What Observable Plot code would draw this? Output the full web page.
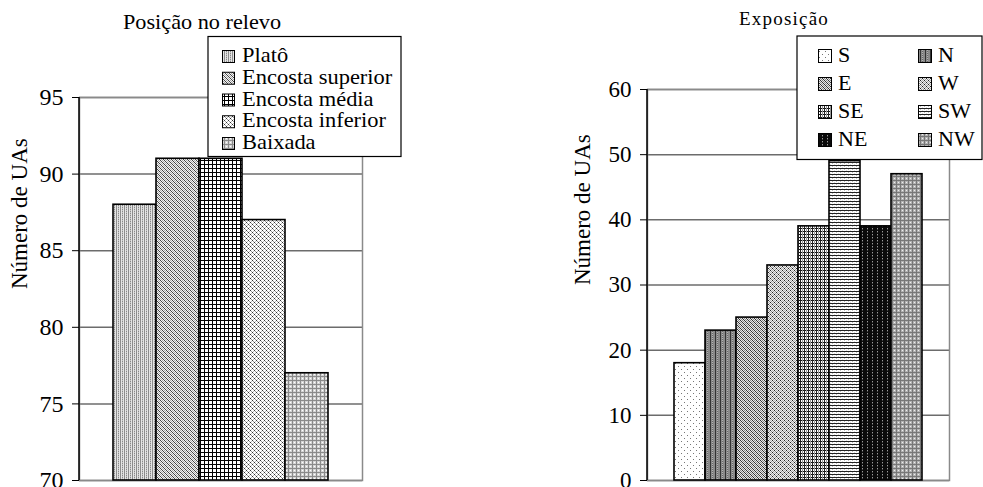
<!DOCTYPE html>
<html>
<head>
<meta charset="utf-8">
<script src="https://cdn.jsdelivr.net/npm/d3@7"></script>
<script src="https://cdn.jsdelivr.net/npm/@observablehq/plot@0.6"></script>
<style>
  html, body { margin: 0; padding: 0; background: #fff; }
  #page { position: relative; width: 983px; height: 487px; overflow: hidden; background: #fff;
          font-family: "Liberation Serif", "Times New Roman", serif; }
  #page > svg { position: absolute; top: 0; }
  #page svg text { font-family: "Liberation Serif", "Times New Roman", serif; }
</style>
</head>
<body>
<div id="page"></div>
<script>
// Posição no relevo
const reliefTitle = "Posição no relevo";
const reliefCategories = ["Platô", "Encosta superior", "Encosta média", "Encosta inferior", "Baixada"];
const reliefValues = [88, 91, 91, 87, 77];
const reliefTicks = [70, 75, 80, 85, 90, 95];
const reliefPatterns = ["plato", "superior", "media", "inferior", "baixada"];

// Exposição
const aspectTitle = "Exposição";
const aspectCategories = ["S", "N", "E", "W", "SE", "SW", "NE", "NW"];
const aspectValues = [18, 23, 25, 33, 39, 49, 39, 47];
const aspectTicks = [0, 10, 20, 30, 40, 50, 60];
const aspectPatterns = ["s", "n", "e", "w", "se", "sw", "ne", "nw"];

const yLabel = "Número de UAs";
const serif = "'Liberation Serif', 'Times New Roman', serif";

// Monochrome fill textures: tile size, background and pixel runs [x, y, w, h, colour]
const tiles = {
  plato:    {w: 4, h: 4, bg: "#e4e4e4", px: [[0,0,1,4,"#8c8c8c"],[2,0,1,4,"#c4c4c4"],[2,1,1,1,"#888"],[2,3,1,1,"#888"]]},
  superior: {w: 4, h: 4, bg: "#f4f4f4", px: [[0,0,1,1,"#444"],[1,1,1,1,"#444"],[2,2,1,1,"#444"],[3,3,1,1,"#444"],
                                             [2,0,1,1,"#aaa"],[3,1,1,1,"#aaa"],[0,2,1,1,"#aaa"],[1,3,1,1,"#aaa"]]},
  media:    {w: 4, h: 4, bg: "#fff",    px: [[0,0,4,1,"#000"],[0,0,1,4,"#000"]]},
  inferior: {w: 4, h: 4, bg: "#fff",    px: [[0,0,1,1,"#333"],[2,2,1,1,"#333"],[1,1,1,1,"#999"],[3,3,1,1,"#999"],
                                             [3,1,1,1,"#bbb"],[1,3,1,1,"#bbb"]]},
  baixada:  {w: 4, h: 4, bg: "#d4d4d4", px: [[0,0,4,1,"#8a8a8a"],[0,0,1,4,"#8a8a8a"],[2,2,1,1,"#fff"]]},
  s:        {w: 6, h: 6, bg: "#fff",    px: [[0,0,1,1,"#777"],[3,3,1,1,"#777"]]},
  n:        {w: 5, h: 4, bg: "#8a8a8a", px: [[0,0,1,4,"#333"],[2,0,1,4,"#b4b4b4"],[2,1,1,1,"#666"],[2,3,1,1,"#666"]]},
  e:        {w: 4, h: 4, bg: "#e8e8e8", px: [[0,0,1,1,"#333"],[1,1,1,1,"#333"],[2,2,1,1,"#333"],[3,3,1,1,"#333"],
                                             [2,0,1,1,"#888"],[3,1,1,1,"#888"],[0,2,1,1,"#888"],[1,3,1,1,"#888"]]},
  w:        {w: 4, h: 4, bg: "#f0f0f0", px: [[0,0,1,1,"#222"],[2,2,1,1,"#222"],[1,1,1,1,"#888"],[3,3,1,1,"#888"],
                                             [3,1,1,1,"#999"],[1,3,1,1,"#999"],[2,0,1,1,"#bbb"],[0,2,1,1,"#bbb"]]},
  se:       {w: 4, h: 3, bg: "#fff",    px: [[0,0,4,1,"#111"],[0,0,1,3,"#222"],[2,0,1,3,"#999"]]},
  sw:       {w: 4, h: 3, bg: "#fff",    px: [[0,0,4,1,"#222"],[0,1,1,1,"#bbb"],[2,2,1,1,"#ddd"]]},
  ne:       {w: 5, h: 3, bg: "#0a0a0a", px: [[2,0,1,1,"#9a9a9a"],[2,1,1,1,"#444"]]},
  nw:       {w: 4, h: 4, bg: "#b2b2b2", px: [[0,0,4,1,"#777"],[0,0,1,4,"#777"],[2,2,1,1,"#eee"]]}
};

const page = d3.select("#page");

// Shared pattern definitions
const defs = page.append("svg").attr("width", 0).attr("height", 0).append("defs");
for (const [id, t] of Object.entries(tiles)) {
  const p = defs.append("pattern").attr("id", "pat-" + id)
    .attr("patternUnits", "userSpaceOnUse").attr("width", t.w).attr("height", t.h);
  p.append("rect").attr("width", t.w).attr("height", t.h).attr("fill", t.bg).attr("shape-rendering", "crispEdges");
  for (const [x, y, w, h, c] of t.px) {
    p.append("rect").attr("x", x).attr("y", y).attr("width", w).attr("height", h)
      .attr("fill", c).attr("shape-rendering", "crispEdges");
  }
}

function barChart({categories, values, ticks, patterns, left, width, marginLeft, marginRight, marginTop, paddingOuter, tickFont, labelDx}) {
  const rows = categories.map((c, i) => ({category: c, value: values[i], fill: `url(#pat-${patterns[i]})`}));
  const base = ticks[0];
  const plot = Plot.plot({
    width, height: 487,
    marginLeft, marginRight, marginTop, marginBottom: 7,
    style: {fontFamily: serif, fontSize: tickFont + "px", color: "#000", background: "transparent", overflow: "visible"},
    x: {type: "band", domain: categories, paddingInner: 0, paddingOuter, axis: null},
    y: {domain: [ticks[0], ticks[ticks.length - 1]]},
    color: {type: "identity"},
    marks: [
      Plot.ruleY(ticks, {stroke: "#6c6c6c", strokeWidth: 1.5}),
      Plot.frame({stroke: "#8a8a8a", strokeWidth: 1.5}),
      Plot.barY(rows, {x: "category", y1: () => base, y2: "value", fill: "fill", stroke: "#000", strokeWidth: 1.6}),
      Plot.axisY({ticks, tickSize: 7, tickPadding: 9, fontSize: tickFont, label: null, stroke: "#000"}),
      Plot.text([yLabel], {text: d => d, frameAnchor: "left", rotate: -90, dx: labelDx, fontSize: 23, fill: "#000"})
    ]
  });
  const svg = d3.select(plot).style("left", left + "px").attr("font-family", serif);
  svg.selectAll("text").attr("font-family", serif);
  // Dark value axis line on the left edge of the plotting area
  const xr = plot.scale("x").range, yr = plot.scale("y").range;
  svg.append("line")
    .attr("x1", xr[0]).attr("x2", xr[0]).attr("y1", yr[0]).attr("y2", yr[1])
    .attr("stroke", "#000").attr("stroke-width", 1.5);
  page.node().appendChild(plot);
  return plot;
}

barChart({
  categories: reliefCategories, values: reliefValues, ticks: reliefTicks, patterns: reliefPatterns,
  left: 0, width: 400, marginLeft: 79, marginRight: 38, marginTop: 97, paddingOuter: 0.716,
  tickFont: 24, labelDx: -59.5
});

barChart({
  categories: aspectCategories, values: aspectValues, ticks: aspectTicks, patterns: aspectPatterns,
  left: 540, width: 443, marginLeft: 107, marginRight: 34, marginTop: 89, paddingOuter: 0.73,
  tickFont: 23, labelDx: -65
});

// Titles and legends
const overlay = page.append("svg").attr("width", 983).attr("height", 487)
  .style("left", "0px").style("pointer-events", "none")
  .attr("font-family", serif);

// Text placed at (x, y) with a slight horizontal widening of the glyphs
function wideText(sel, x, y, size, sx, str, anchor = "start") {
  return sel.append("text")
    .attr("transform", `translate(${x},${y}) scale(${sx},1)`)
    .attr("text-anchor", anchor).attr("font-size", size).attr("fill", "#000").text(str);
}

wideText(overlay, 202, 29, 21, 1.06, reliefTitle, "middle");
wideText(overlay, 784, 25, 19, 1.0, aspectTitle, "middle").attr("letter-spacing", 1.2);

// Relief legend: one column
const lg1 = overlay.append("g");
lg1.append("rect").attr("x", 208).attr("y", 36.5).attr("width", 193).attr("height", 120)
  .attr("fill", "#fff").attr("stroke", "#000").attr("stroke-width", 1.2);
reliefCategories.forEach((c, i) => {
  const by = 62 + i * 21.75;
  lg1.append("rect").attr("x", 222.5).attr("y", by - 11.5).attr("width", 12).attr("height", 12)
    .attr("fill", `url(#pat-${reliefPatterns[i]})`).attr("stroke", "#000").attr("stroke-width", 1);
  wideText(lg1, 242, by, 21, 1.07, c);
});

// Aspect legend: two columns, row by row
const lg2 = overlay.append("g");
lg2.append("rect").attr("x", 797).attr("y", 36).attr("width", 185).attr("height", 123.5)
  .attr("fill", "#fff").attr("stroke", "#000").attr("stroke-width", 1.2);
aspectCategories.forEach((c, i) => {
  const col = i % 2, row = Math.floor(i / 2);
  const by = 62 + row * 28;
  const sx = 818.5 + col * 100;
  lg2.append("rect").attr("x", sx).attr("y", by - 12.5).attr("width", 13).attr("height", 13)
    .attr("fill", `url(#pat-${aspectPatterns[i]})`).attr("stroke", "#000").attr("stroke-width", 1);
  wideText(lg2, sx + 19.5, by, 22, 1.0, c);
});
</script>
</body>
</html>
